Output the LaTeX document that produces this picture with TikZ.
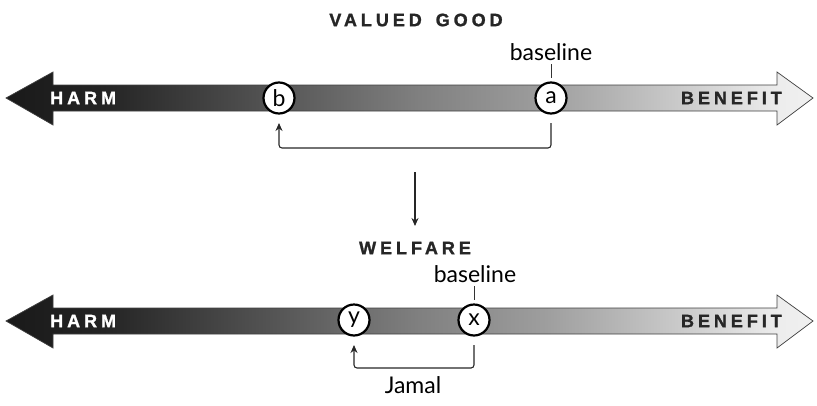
\documentclass[tikz,border=0pt]{standalone}
\usepackage{fontspec}
\setmainfont{Lato}
\newfontfamily\headfont[LetterSpace=22, FakeBold=1.4]{Liberation Sans Bold}
\usetikzlibrary{arrows.meta}

% grey ramp from harm (dark) to benefit (light)
\pgfdeclarehorizontalshading{harmbenefit}{100bp}{%
  color(0bp)=(black!90);
  color(25bp)=(black!90);
  color(31bp)=(black!86);
  color(42bp)=(black!66);
  color(50.5bp)=(black!50);
  color(58.5bp)=(black!38);
  color(68bp)=(black!18);
  color(73bp)=(black!7);
  color(75bp)=(black!6);
  color(100bp)=(black!6)}

\tikzset{
  scalebar/.style={shading=harmbenefit, draw=black!75, line width=0.7pt},
  endword/.style={font=\headfont\fontsize{18}{18}\selectfont, inner sep=0pt},
  heading/.style={font=\headfont\fontsize{18}{18}\selectfont, text=black!85, inner sep=0pt},
  pointmark/.style={circle, draw=black, line width=2.2pt, fill=white, minimum size=31pt, inner sep=0pt,
                    font=\fontsize{23}{23}\selectfont},
  tag/.style={font=\fontsize{23}{23}\selectfont, inner sep=0pt},
  tick/.style={draw=black!80, line width=1pt},
  link/.style={draw=black!85, line width=1.1pt, rounded corners=3pt},
  linktip/.style={-{Stealth[length=8pt,width=7pt]}},
}

\begin{document}
\begin{tikzpicture}[x=1pt, y=-1pt]
\useasboundingbox (0,0) rectangle (817,405);

% ---------- valued good ----------
\node[heading] (vg) at (416,20) {VALUED\hspace{5pt} GOOD};
\path[scalebar] (6,98) -- (53,72) -- (53,85) -- (777,85) -- (777,72) -- (813,98)
  -- (777,125) -- (777,111) -- (53,111) -- (53,125) -- cycle;
\node[endword, text=white, anchor=west] (harm1) at (50,98) {HARM};
\node[endword, text=black!85, anchor=east] (ben1) at (782,98) {BENEFIT};

\node[pointmark] (a) at (551,98) {a};
\node[pointmark] (b) at (279,98) {b};
\node[tag] (base1) at (551,52) {baseline};
\coordinate (t1a) at (551,64);
\coordinate (t1b) at (551,78);
\draw[tick] (t1a) -- (t1b);

\coordinate (a0) at (551,123);
\coordinate (b0) at (279,123);
\draw[link, linktip] (a0) |- (415,148) -| (b0);

% ---------- link between scales ----------
\coordinate (m0) at (415,172);
\coordinate (m1) at (415,226);
\draw[link, linktip] (m0) -- (m1);

% ---------- welfare ----------
\node[heading] (wf) at (415,248) {WELFARE};
\path[scalebar] (6,321) -- (53,295) -- (53,308) -- (777,308) -- (777,295) -- (813,321)
  -- (777,348) -- (777,334) -- (53,334) -- (53,348) -- cycle;
\node[endword, text=white, anchor=west] (harm2) at (50,321) {HARM};
\node[endword, text=black!85, anchor=east] (ben2) at (782,321) {BENEFIT};

\node[pointmark] (x) at (474,320) {x};
\node[pointmark] (y) at (354,320) {y};
\node[tag] (base2) at (475,274) {baseline};
\coordinate (t2a) at (474,286);
\coordinate (t2b) at (474,300);
\draw[tick] (t2a) -- (t2b);

\coordinate (x0) at (474,345);
\coordinate (y0) at (354,345);
\draw[link, linktip] (x0) |- (414,368) -| (y0);
\node[tag] (jamal) at (413,385) {Jamal};
\end{tikzpicture}
\end{document}
